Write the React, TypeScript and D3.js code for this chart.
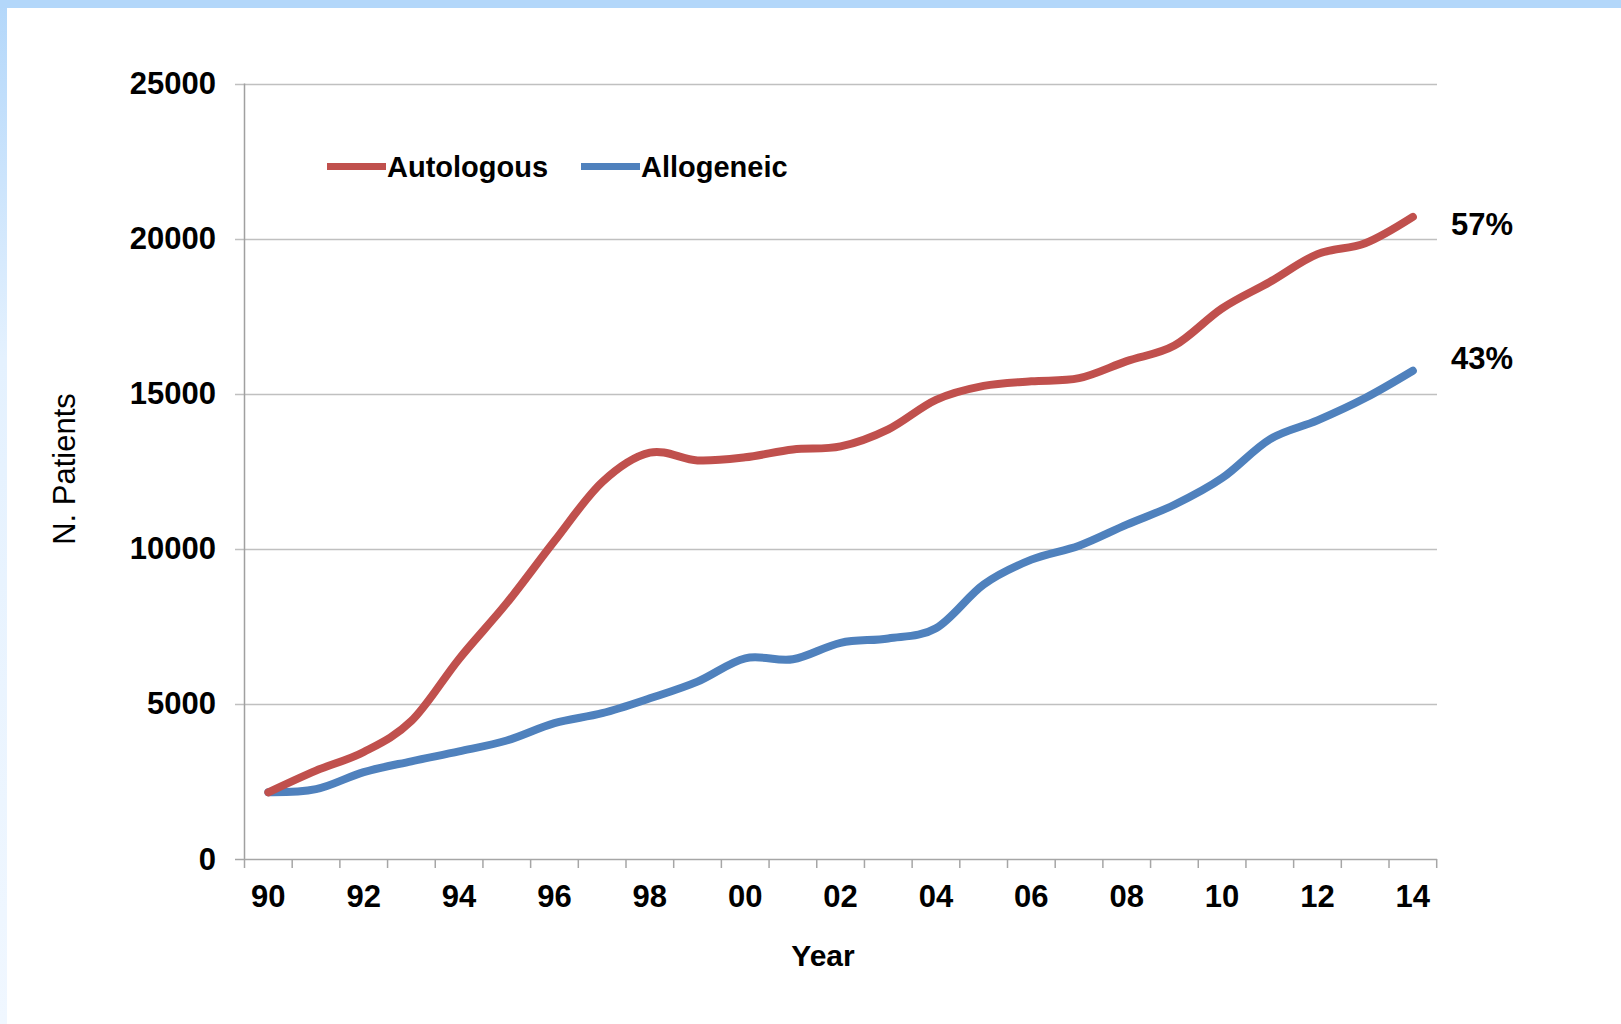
import React, { useEffect, useRef } from "react";
import * as d3 from "d3";

// Years on the category axis
const years = [
  1990, 1991, 1992, 1993, 1994, 1995, 1996, 1997, 1998, 1999, 2000, 2001, 2002,
  2003, 2004, 2005, 2006, 2007, 2008, 2009, 2010, 2011, 2012, 2013, 2014,
];

// Patients per year, autologous transplants
const autologous = [
  2150, 2850, 3450, 4450, 6450, 8250, 10250, 12150, 13100, 12850, 12950, 13200,
  13300, 13850, 14800, 15250, 15400, 15500, 16050, 16550, 17750, 18600, 19500,
  19850, 20700,
];

// Patients per year, allogeneic transplants
const allogeneic = [
  2150, 2250, 2800, 3150, 3470, 3820, 4380, 4700, 5180, 5720, 6470, 6440, 6970,
  7110, 7440, 8850, 9650, 10100, 10780, 11420, 12280, 13530, 14140, 14860, 15740,
];

const yTicks = [0, 5000, 10000, 15000, 20000, 25000];
const labelledYears = [1990, 1992, 1994, 1996, 1998, 2000, 2002, 2004, 2006, 2008, 2010, 2012, 2014];
const shareLabels = ["57%", "43%"];

const W = 1621;
const H = 1024;
const FONT = "'Liberation Sans', Arial, sans-serif";
const RED = "#C0504D";
const BLUE = "#4F81BD";

export default function App() {
  const ref = useRef<SVGSVGElement>(null);

  useEffect(() => {
    const svg = d3.select(ref.current);
    svg.selectAll("*").remove();

    const x = d3
      .scaleBand<number>()
      .domain(years)
      .range([244.5, 1436.7])
      .padding(0);
    const cx = (yr: number) => (x(yr) as number) + x.bandwidth() / 2;
    const y = d3.scaleLinear().domain([0, 25000]).range([859, 83.5]);

    // frame: blue band on top and a fading band on the left
    const defs = svg.append("defs");
    const grad = defs
      .append("linearGradient")
      .attr("id", "leftBand")
      .attr("x1", 0)
      .attr("y1", 0)
      .attr("x2", 0)
      .attr("y2", 1);
    grad.append("stop").attr("offset", "0%").attr("stop-color", "#b3d7fa");
    grad.append("stop").attr("offset", "35%").attr("stop-color", "#e4f1fe");
    grad.append("stop").attr("offset", "100%").attr("stop-color", "#f0f7ff");

    svg.append("rect").attr("width", W).attr("height", H).attr("fill", "#ffffff");
    svg.append("rect").attr("x", 0).attr("y", 0).attr("width", 7).attr("height", H).attr("fill", "url(#leftBand)");
    svg.append("rect").attr("x", 0).attr("y", 0).attr("width", W).attr("height", 8).attr("fill", "#b3d7fa");

    // horizontal gridlines (with outward ticks)
    svg
      .append("g")
      .selectAll("line")
      .data(yTicks.filter((t) => t > 0))
      .join("line")
      .attr("x1", 235)
      .attr("x2", 1437)
      .attr("y1", (d) => Math.round(y(d)) + 0.5)
      .attr("y2", (d) => Math.round(y(d)) + 0.5)
      .attr("stroke", "#c0c0c0")
      .attr("stroke-width", 1.5);

    // y axis
    svg
      .append("line")
      .attr("x1", 244.5)
      .attr("x2", 244.5)
      .attr("y1", y(25000))
      .attr("y2", y(0) + 1)
      .attr("stroke", "#a0a0a0")
      .attr("stroke-width", 1.5);

    // x axis with ticks between categories
    svg
      .append("line")
      .attr("x1", 235)
      .attr("x2", 1437)
      .attr("y1", y(0) + 0.5)
      .attr("y2", y(0) + 0.5)
      .attr("stroke", "#a6a6a6")
      .attr("stroke-width", 1.5);
    const tickXs = years.map((yr) => x(yr) as number).concat([x.range()[1]]);
    svg
      .append("g")
      .selectAll("line")
      .data(tickXs)
      .join("line")
      .attr("x1", (d) => d)
      .attr("x2", (d) => d)
      .attr("y1", y(0))
      .attr("y2", y(0) + 9)
      .attr("stroke", "#a6a6a6")
      .attr("stroke-width", 1.5);

    // y tick labels
    svg
      .append("g")
      .selectAll("text")
      .data(yTicks)
      .join("text")
      .attr("x", 216)
      .attr("y", (d) => y(d) + 10.5)
      .attr("text-anchor", "end")
      .attr("font-family", FONT)
      .attr("font-weight", "bold")
      .attr("font-size", 31)
      .attr("fill", "#000")
      .text((d) => String(d));

    // x tick labels
    svg
      .append("g")
      .selectAll("text")
      .data(labelledYears)
      .join("text")
      .attr("x", (d) => cx(d))
      .attr("y", 907)
      .attr("text-anchor", "middle")
      .attr("font-family", FONT)
      .attr("font-weight", "bold")
      .attr("font-size", 31)
      .attr("fill", "#000")
      .text((d) => String(d % 100).padStart(2, "0"));

    // axis titles
    svg
      .append("text")
      .attr("transform", "translate(75,469) rotate(-90)")
      .attr("text-anchor", "middle")
      .attr("font-family", FONT)
      .attr("font-size", 31)
      .attr("fill", "#000")
      .text("N. Patients");
    svg
      .append("text")
      .attr("x", 823)
      .attr("y", 966)
      .attr("text-anchor", "middle")
      .attr("font-family", FONT)
      .attr("font-weight", "bold")
      .attr("font-size", 30)
      .attr("fill", "#000")
      .text("Year");

    // series lines
    const line = d3
      .line<number>()
      .x((_, i) => cx(years[i]))
      .y((d) => y(d))
      .curve(d3.curveCardinal.tension(0));

    const series = [
      { values: allogeneic, color: BLUE },
      { values: autologous, color: RED },
    ];
    series.forEach((s) => {
      svg
        .append("path")
        .attr("d", line(s.values))
        .attr("fill", "none")
        .attr("stroke", s.color)
        .attr("stroke-width", 8)
        .attr("stroke-linecap", "round")
        .attr("stroke-linejoin", "round");
    });

    // share labels beside the line ends
    const lastAuto = autologous[autologous.length - 1];
    const lastAllo = allogeneic[allogeneic.length - 1];
    [
      { text: shareLabels[0], v: lastAuto, dy: 18 },
      { text: shareLabels[1], v: lastAllo, dy: -2 },
    ].forEach((l) => {
      svg
        .append("text")
        .attr("x", 1451)
        .attr("y", y(l.v) + l.dy)
        .attr("font-family", FONT)
        .attr("font-weight", "bold")
        .attr("font-size", 31)
        .attr("fill", "#000")
        .text(l.text);
    });

    // legend
    const legend = [
      { name: "Autologous", color: RED, x0: 327 },
      { name: "Allogeneic", color: BLUE, x0: 581 },
    ];
    legend.forEach((l) => {
      svg
        .append("line")
        .attr("x1", l.x0)
        .attr("x2", l.x0 + 59)
        .attr("y1", 166.5)
        .attr("y2", 166.5)
        .attr("stroke", l.color)
        .attr("stroke-width", 7);
      svg
        .append("text")
        .attr("x", l.x0 + 60)
        .attr("y", 177)
        .attr("font-family", FONT)
        .attr("font-weight", "bold")
        .attr("font-size", 29)
        .attr("fill", "#000")
        .text(l.name);
    });
  }, []);

  return (
    <svg
      ref={ref}
      width={W}
      height={H}
      style={{ position: "absolute", left: 0, top: 0, display: "block" }}
    />
  );
}
